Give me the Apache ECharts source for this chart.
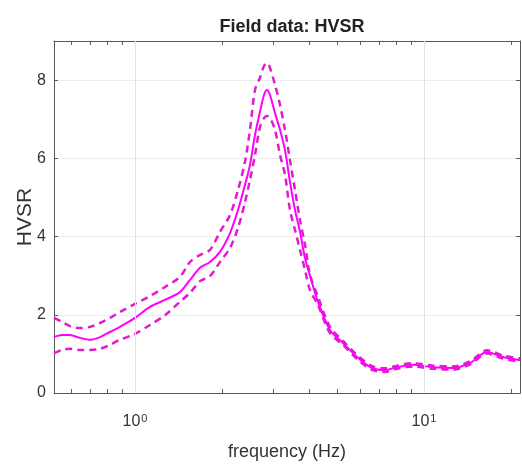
<!DOCTYPE html>
<html>
<head>
<meta charset="utf-8">
<script src="https://cdn.jsdelivr.net/npm/echarts@6/dist/echarts.min.js"></script>
<style>html,body{margin:0;padding:0;background:#fff;}#c{width:522px;height:466px;}</style>
</head>
<body>
<div id="c"></div>
<script>
const freq = [0.5245,0.559,0.596,0.645,0.699,0.757,0.819,0.887,1.0,1.127,1.270,1.431,1.550,1.679,1.818,1.968,2.132,2.272,2.402,2.500,2.602,2.707,2.795,2.862,2.932,3.051,3.175,3.304,3.438,3.578,3.724,3.875,4.033,4.298,4.728,5.245,5.865,6.610,7.331,8.065,9.162,10.74,12.60,14.43,16.52,18.77,21.49];
const hvsr = [1.43,1.48,1.48,1.41,1.36,1.43,1.56,1.69,1.92,2.20,2.38,2.58,2.89,3.20,3.35,3.61,4.09,4.68,5.32,5.83,6.60,7.19,7.62,7.75,7.62,7.16,6.73,6.21,5.40,4.68,4.12,3.45,3.00,2.33,1.61,1.28,0.92,0.64,0.59,0.66,0.72,0.66,0.64,0.77,1.05,0.92,0.84];
const hvsrUpper = [1.92,1.82,1.71,1.66,1.69,1.79,1.92,2.07,2.28,2.48,2.71,2.97,3.35,3.53,3.66,4.12,4.55,5.19,5.91,6.73,7.75,8.06,8.36,8.44,8.31,7.88,7.37,6.73,5.96,5.19,4.42,3.79,3.02,2.46,1.69,1.33,0.97,0.69,0.63,0.70,0.76,0.70,0.68,0.81,1.09,0.96,0.88];
const hvsrLower = [1.02,1.10,1.13,1.10,1.10,1.13,1.23,1.36,1.51,1.74,1.99,2.33,2.56,2.86,2.99,3.35,3.71,4.22,4.88,5.45,6.09,6.80,7.03,7.08,7.03,6.73,6.09,5.58,4.68,4.17,3.66,3.15,2.63,2.25,1.53,1.23,0.87,0.59,0.54,0.62,0.68,0.62,0.60,0.73,1.01,0.88,0.80];
const xMinHz = 0.5245, xMaxHz = 21.49;
const xTickHz = [0.6,0.7,0.8,0.9,1,2,3,4,5,6,7,8,9,10,20];
const xLabelExp = [0, 1];
const yTicks = [0,2,4,6,8];
const yMax = 9;

const lg = Math.log10;
const toPts = arr => freq.map((f,i)=>[lg(f), arr[i]]);
const xTickLog = xTickHz.map(lg);
const axisColor = '#5a5a5a';
const sans = "'Liberation Sans',Arial,sans-serif";

const chart = echarts.init(document.getElementById('c'));
const axLine = {show: true, onZero: false, lineStyle: {color: axisColor, width: 1}};
chart.setOption({
  backgroundColor: '#fff',
  animation: false,
  title: {
    text: 'Field data: HVSR',
    left: 287, top: 13, textAlign: 'center',
    textStyle: {fontFamily: sans, fontSize: 18, fontWeight: 'bold', color: '#222'}
  },
  grid: {left: 54, right: 2, top: 41, bottom: 73},
  xAxis: [{
    type: 'value', position: 'bottom', min: lg(xMinHz), max: lg(xMaxHz),
    name: 'frequency (Hz)', nameLocation: 'middle', nameGap: 50,
    nameTextStyle: {fontFamily: sans, fontSize: 18, color: '#333'},
    axisLine: axLine,
    axisTick: {show: true, inside: true, length: 4, customValues: xTickLog, lineStyle: {color: axisColor}},
    axisLabel: {
      customValues: xLabelExp, margin: 20,
      formatter: v => '{b|10}{s|' + Math.round(v) + '}',
      rich: {
        b: {fontFamily: sans, fontSize: 16, color: '#333', lineHeight: 18},
        s: {fontFamily: sans, fontSize: 11, color: '#333', verticalAlign: 'top', lineHeight: 18, padding: [0,0,8,1]}
      }
    },
    splitLine: {show: false}
  }, {
    type: 'value', position: 'top', min: lg(xMinHz), max: lg(xMaxHz),
    axisLine: axLine,
    axisTick: {show: true, inside: true, length: 4, customValues: xTickLog, lineStyle: {color: axisColor}},
    axisLabel: {show: false},
    splitLine: {show: false}
  }],
  yAxis: [{
    type: 'value', position: 'left', min: 0, max: yMax, interval: 2,
    name: 'HVSR', nameLocation: 'middle', nameGap: 18, nameRotate: 90, nameMoveOverlap: false,
    nameTextStyle: {fontFamily: sans, fontSize: 21, color: '#333'},
    axisLine: axLine,
    axisTick: {show: true, inside: true, length: 4, customValues: yTicks, lineStyle: {color: axisColor}},
    axisLabel: {customValues: yTicks, margin: 8, fontFamily: sans, fontSize: 16, color: '#333'},
    splitLine: {show: true, lineStyle: {color: '#ececec', width: 1}}
  }, {
    type: 'value', position: 'right', min: 0, max: yMax, interval: 2,
    axisLine: axLine,
    axisTick: {show: true, inside: true, length: 4, customValues: yTicks, lineStyle: {color: axisColor}},
    axisLabel: {show: false},
    splitLine: {show: false}
  }],
  series: [{
    type: 'line', name: 'upper', data: toPts(hvsrUpper), xAxisIndex: 0, yAxisIndex: 0,
    showSymbol: false, smooth: 0.3,
    lineStyle: {color: '#e21ccc', width: 2.5, type: [7, 5]}, z: 3
  }, {
    type: 'line', name: 'lower', data: toPts(hvsrLower), xAxisIndex: 0, yAxisIndex: 0,
    showSymbol: false, smooth: 0.3,
    lineStyle: {color: '#e21ccc', width: 2.5, type: [7, 5]}, z: 3
  }, {
    type: 'line', name: 'HVSR', data: toPts(hvsr), xAxisIndex: 0, yAxisIndex: 0,
    showSymbol: false, smooth: 0.3,
    lineStyle: {color: '#ff00ff', width: 2}, z: 4,
    markLine: {
      silent: true, symbol: 'none', label: {show: false},
      lineStyle: {color: '#e2e2e2', type: 'solid', width: 1},
      data: xLabelExp.map(e => ({xAxis: e}))
    }
  }]
});
</script>
</body>
</html>
